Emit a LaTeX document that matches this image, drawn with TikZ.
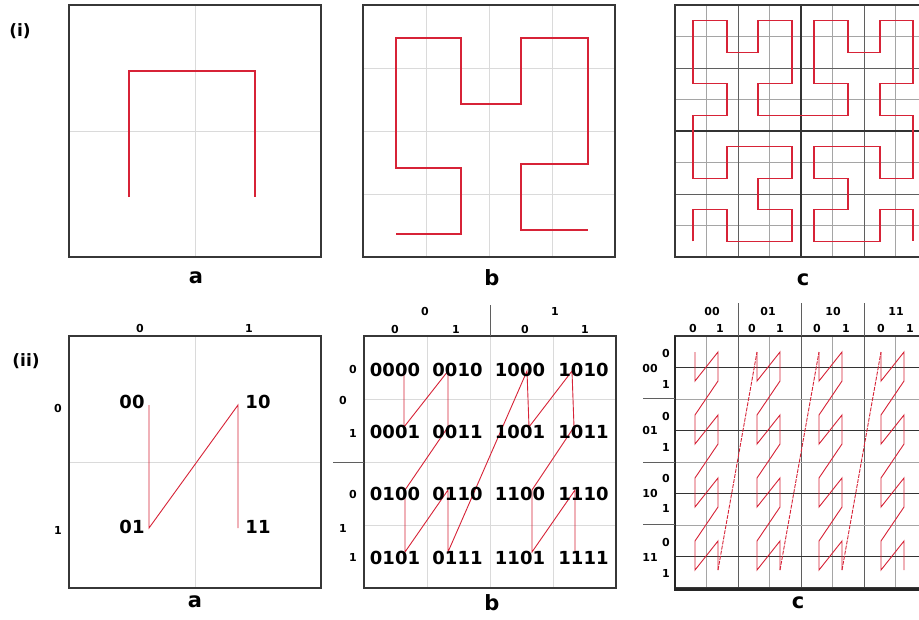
\documentclass[tikz,border=0pt]{standalone}
\usepackage{fontspec}
\setmainfont{DejaVu Sans}
\definecolor{curvered}{RGB}{215,35,55}
\definecolor{framegray}{RGB}{55,55,55}
\definecolor{gridlight}{RGB}{218,218,218}
\definecolor{gridmid}{RGB}{165,165,165}
\definecolor{griddark}{RGB}{95,95,95}
\begin{document}
\begin{tikzpicture}[x=1pt,y=-1pt,
  frame/.style={draw=framegray, line width=1.5pt},
  thickframe/.style={draw=black!85, line width=2.6pt},
  fine/.style={draw=gridlight, line width=0.7pt},
  midline/.style={draw=gridmid, line width=0.8pt},
  darkline/.style={draw=griddark, line width=0.9pt},
  sep/.style={draw=griddark, line width=1pt},
  hred/.style={draw=curvered, line width=1.3pt, line join=miter},
  zred/.style={draw=curvered, line width=0.9pt},
  longdiag/.style={draw=curvered, line width=0.9pt, dash pattern=on 4pt off 1.2pt},
  big/.style={font=\fontsize{18}{18}\selectfont\bfseries, inner sep=0pt},
  small/.style={font=\fontsize{11}{11}\selectfont\bfseries, inner sep=0pt},
  letter/.style={font=\fontsize{21}{21}\selectfont\bfseries, inner sep=0pt},
]
\clip (0,0) rectangle (919,619);
\fill[white] (0,0) rectangle (919,619);

% ================= Row (i) =================
% --- panel a
\draw[fine] (195,5) -- (195,257) (69,131) -- (321,131);
\draw[hred] (129,197) -- (129,71) -- (255,71) -- (255,197);
\draw[frame] (69,5) rectangle (321,257);
% --- panel b
\foreach \v in {426,489,552} \draw[fine] (\v,5) -- (\v,257);
\foreach \v in {68,131,194} \draw[fine] (363,\v) -- (615,\v);
\draw[hred] (396,234) -- (461,234) -- (461,168) -- (396,168) -- (396,38) -- (461,38)
  -- (461,104) -- (521,104) -- (521,38) -- (588,38) -- (588,164) -- (521,164)
  -- (521,230) -- (588,230);
\draw[frame] (363,5) rectangle (615,257);
% --- panel c
\foreach \k in {1,3,5,7} {
  \draw[midline] ({675+31.5*\k},5) -- ({675+31.5*\k},257);
  \draw[midline] (675,{5+31.5*\k}) -- (927,{5+31.5*\k});
}
\foreach \k in {2,6} {
  \draw[darkline] ({675+31.5*\k},5) -- ({675+31.5*\k},257);
  \draw[darkline] (675,{5+31.5*\k}) -- (927,{5+31.5*\k});
}
\draw[draw=black!80, line width=1.1pt] (801,5) -- (801,257) (675,131) -- (927,131);
\foreach \i/\x in {0/693,1/727,2/758,3/792,4/814,5/848,6/880,7/913} {
  \foreach \j in {0,...,7} {
    \coordinate (h\i\j) at (\x,{241.25-31.5*\j});
  }
}
\draw[hred] (h00) -- (h01) -- (h11) -- (h10) -- (h20) -- (h30) -- (h31) -- (h21)
  -- (h22) -- (h32) -- (h33) -- (h23) -- (h13) -- (h12) -- (h02) -- (h03)
  -- (h04) -- (h14) -- (h15) -- (h05) -- (h06) -- (h07) -- (h17) -- (h16)
  -- (h26) -- (h27) -- (h37) -- (h36) -- (h35) -- (h25) -- (h24) -- (h34)
  -- (h44) -- (h54) -- (h55) -- (h45) -- (h46) -- (h47) -- (h57) -- (h56)
  -- (h66) -- (h67) -- (h77) -- (h76) -- (h75) -- (h65) -- (h64) -- (h74)
  -- (h73) -- (h72) -- (h62) -- (h63) -- (h53) -- (h43) -- (h42) -- (h52)
  -- (h51) -- (h41) -- (h40) -- (h50) -- (h60) -- (h61) -- (h71) -- (h70);
\draw[frame] (675,5) rectangle (927,257);

\node[letter] (ia) at (196,278) {a};
\node[letter] (ib) at (492,278) {b};
\node[letter] (ic) at (803,280) {c};
\node[font=\fontsize{17}{17}\selectfont\bfseries, inner sep=0pt] (lab1) at (20,31) {(i)};

% ================= Row (ii) =================
% --- panel a
\draw[fine] (195,336) -- (195,588) (69,462) -- (321,462);
\draw[zred] (149,405) -- (149,528) -- (238,405) -- (238,528);
\draw[frame] (69,336) rectangle (321,588);
\node[small] (at0) at (140,328) {0};
\node[small] (at1) at (249,328) {1};
\node[small] (al0) at (58,408) {0};
\node[small] (al1) at (58,530) {1};
\node[big] (a00) at (132,401.5) {00};
\node[big] (a10) at (258,401.5) {10};
\node[big] (a01) at (132,527) {01};
\node[big] (a11) at (258,527) {11};

% --- panel b
\foreach \v in {427,490,553} \draw[fine] (\v,336) -- (\v,588);
\foreach \v in {399,462,525} \draw[fine] (364,\v) -- (616,\v);
\draw[zred] (404,371) -- (404,427) -- (448,371) -- (448,427) -- (405,490) -- (405,552)
  -- (448,490) -- (448,552) -- (527,371) -- (529,427) -- (572,371) -- (574,427)
  -- (532,490) -- (532,552) -- (575,490) -- (575,552);
\draw[frame] (364,336) rectangle (616,588);
\draw[sep] (490,305) -- (490,336);
\draw[sep] (333,462) -- (364,462);
\node[small] (bt0) at (425,311) {0};
\node[small] (bt1) at (555,311) {1};
\foreach \x/\t [count=\n] in {395/0,456/1,525/0,585/1}
  \node[small] (bs\n) at (\x,329) {\t};
\node[small] (bl1) at (353,369) {0};
\node[small] (bo0) at (343,400) {0};
\node[small] (bl2) at (353,433) {1};
\node[small] (bl3) at (353,494) {0};
\node[small] (bo1) at (343,528) {1};
\node[small] (bl4) at (353,557) {1};
\foreach \y/\ra/\rb/\rc/\rd [count=\n] in
  {369.5/0000/0010/1000/1010, 431.5/0001/0011/1001/1011,
   494/0100/0110/1100/1110, 557.5/0101/0111/1101/1111} {
  \node[big] (bc\n a) at (395,\y) {\ra};
  \node[big] (bc\n b) at (457.5,\y) {\rb};
  \node[big] (bc\n c) at (520,\y) {\rc};
  \node[big] (bc\n d) at (583.5,\y) {\rd};
}

% --- panel c
\foreach \k in {1,3,5,7} \draw[midline] ({675+31.5*\k},336) -- ({675+31.5*\k},588);
\foreach \k in {2,4,6} \draw[darkline] ({675+31.5*\k},336) -- ({675+31.5*\k},588);
\foreach \k in {2,4,6} \draw[midline] (675,{336+31.5*\k}) -- (927,{336+31.5*\k});
\foreach \k in {1,3,5,7} \draw[draw=black!80, line width=1pt] (675,{336+31.5*\k}) -- (927,{336+31.5*\k});
\foreach \g in {0,1,2,3} {
  \pgfmathsetmacro\xl{695+62*\g}
  \pgfmathsetmacro\xr{718+62*\g}
  \foreach \r in {0,1,2,3} {
    \pgfmathsetmacro\yt{352+63*\r}
    \pgfmathsetmacro\yb{\yt+29}
    \draw[zred] (\xl,\yt) -- (\xl,\yb) -- (\xr,\yt) -- (\xr,\yb);
    \ifnum\r<3 \draw[zred] (\xr,\yb) -- (\xl,\yt+63); \fi
  }
  \ifnum\g<3 \draw[longdiag] (\xr,570) -- (\xl+62,352); \fi
}
\draw[frame] (675,336) rectangle (927,588);
\draw[thickframe] (675,336) -- (675,589.5) -- (927,589.5);
\foreach \x in {738,801,864} \draw[sep] (\x,303) -- (\x,336);
\foreach \y in {398,462,524} \draw[sep] (643,\y) -- (675,\y);
\foreach \x/\t [count=\n] in {712/00,768/01,833/10,896/11}
  \node[small] (ct\n) at (\x,311) {\t};
\foreach \x/\t [count=\n] in {693/0,720/1,752/0,780/1,817/0,846/1,881/0,910/1}
  \node[small] (cs\n) at (\x,328) {\t};
\foreach \y/\t [count=\n] in {368/00,430/01,493/10,557/11}
  \node[small] (co\n) at (650,\y) {\t};
\foreach \y/\t [count=\n] in {353/0,384/1,416/0,447/1,478/0,508/1,542/0,573/1}
  \node[small] (ci\n) at (666,\y) {\t};

\node[letter] (iia) at (195,602) {a};
\node[letter] (iib) at (492,603) {b};
\node[letter] (iic) at (798,603) {c};
\node[font=\fontsize{17}{17}\selectfont\bfseries, inner sep=0pt] (lab2) at (26,361) {(ii)};
\end{tikzpicture}
\end{document}
